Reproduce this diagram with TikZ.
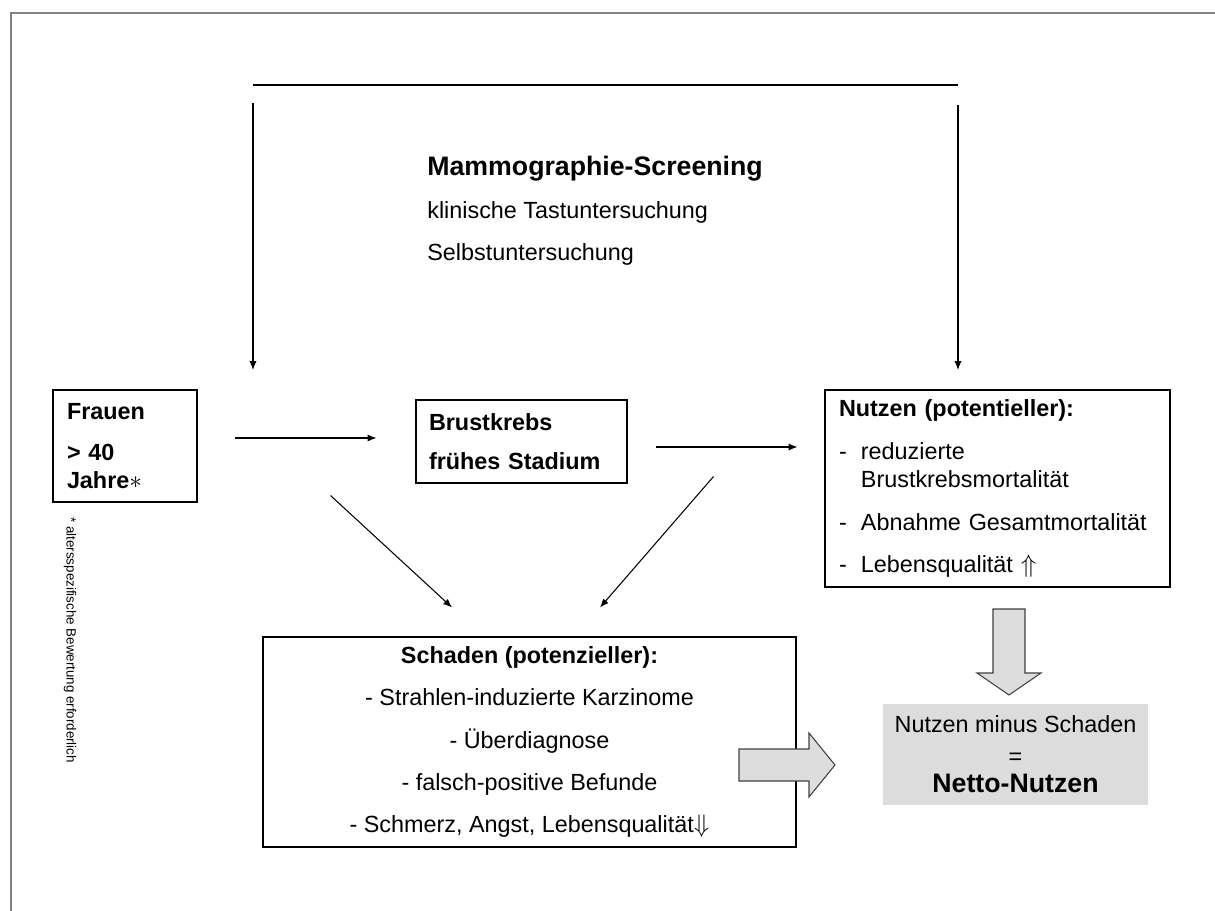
\documentclass[tikz,border=0pt]{standalone}
\usepackage{fontspec}
\setmainfont{Liberation Sans}
\usetikzlibrary{arrows.meta}

\definecolor{framegray}{HTML}{808080}
\definecolor{blockfill}{HTML}{DDDDDD}
\definecolor{blockline}{HTML}{404040}
\definecolor{netfill}{HTML}{DCDCDC}

\newcommand{\bodysize}{\fontsize{13.3}{16}\selectfont}
\newcommand{\titlesize}{\fontsize{15.2}{18}\selectfont}

\tikzset{
  box/.style={draw, line width=0.6pt, inner ysep=0pt},
  txt/.style={inner sep=0pt},
  flow/.style={-{Latex[length=5pt,width=4pt]}, line width=0.6pt},
  blockarrow/.style={draw=blockline, fill=blockfill, line width=0.6pt, line join=miter},
}

\begin{document}
\begin{tikzpicture}[every node/.style={font=\bodysize}]
  \useasboundingbox (0,0) rectangle (24.3,-18.22);

  \draw[framegray, line width=1.3pt] (0.22,-18.22) -- (0.22,-0.26) -- (24.3,-0.26);

  % screening
  \coordinate (topL) at (5.06,-1.70);
  \coordinate (topR) at (19.16,-1.70);
  \coordinate (entryL) at (5.06,-7.40);
  \coordinate (entryR) at (19.16,-7.40);
  \draw[line width=1.2pt] (topL) -- (topR);

  \node[txt, anchor=base west, font=\titlesize\bfseries] (screen) at (8.54,-3.52) {Mammographie-Screening};
  \node[txt, anchor=base west] (klin) at (8.54,-4.38) {klinische Tastuntersuchung};
  \node[txt, anchor=base west] (selbst) at (8.54,-5.22) {Selbstuntersuchung};

  % boxes
  \node[box, minimum width=2.88cm, minimum height=2.24cm, text width=2.32cm, inner xsep=0.28cm,
        align=left, font=\bodysize\bfseries] (frauen) at (2.50,-8.92)
        {Frauen\\[7pt] > 40\\ Jahre$\ast$};
  \node[box, minimum width=4.22cm, minimum height=1.66cm, text width=3.70cm, inner xsep=0.26cm,
        align=left, font=\bodysize\bfseries] (brust) at (10.43,-8.83)
        {Brustkrebs\\[6.5pt] frühes Stadium};
  \node[box, minimum width=6.90cm, minimum height=3.94cm, text width=6.34cm, inner xsep=0.28cm,
        align=left] (nutzen) at (19.95,-9.77)
        {{\bfseries Nutzen (potentieller):}\\[8.4pt]
         \makebox[12.5pt][l]{-}reduzierte\\
         \hspace*{12.5pt}Brustkrebsmortalität\\[8pt]
         \makebox[12.5pt][l]{-}Abnahme Gesamtmortalität\\[8pt]
         \makebox[12.5pt][l]{-}Lebensqualität $\Uparrow$};
  \node[box, minimum width=10.66cm, minimum height=4.20cm, align=center] (schaden) at (10.59,-14.84)
        {{\bfseries Schaden (potenzieller):}\\[8pt]
         - Strahlen-induzierte Karzinome\\[8pt]
         - Überdiagnose\\[8pt]
         - falsch-positive Befunde\\[8pt]
         - Schmerz, Angst, Lebensqualität$\Downarrow$};
  \node[fill=netfill, minimum width=5.30cm, minimum height=2.02cm, align=center] (netto) at (20.31,-15.09)
        {Nutzen minus Schaden\\[2pt] =\\[0pt] {\titlesize\bfseries Netto-Nutzen}};

  \node[txt, rotate=-90, anchor=west, font=\fontsize{7.6}{9}\selectfont] (note) at (1.40,-10.34)
        {* altersspezifische Bewertung erforderlich};

  % arrows
  \draw[flow] ([yshift=-0.36cm]topL) -- (entryL);
  \draw[flow] ([yshift=-0.40cm]topR) -- (entryR);
  \draw[flow] ([shift={(0.74,0.16)}]frauen.east) coordinate (fb) -- ([xshift=-0.78cm]brust.west |- fb);
  \draw[flow] ([shift={(0.56,-0.11)}]brust.east) coordinate (bn) -- ([xshift=-0.54cm]nutzen.west |- bn);
  \draw[flow] ([shift={(2.66,0.14)}]frauen.south east) -- ([shift={(-1.55,0.58)}]schaden.north);
  \draw[flow] ([shift={(1.72,0.14)}]brust.south east) -- ([shift={(1.41,0.58)}]schaden.north);

  \draw[blockarrow] (14.78,-14.98) -- (16.18,-14.98) -- (16.18,-14.66) -- (16.70,-15.30)
        -- (16.18,-15.94) -- (16.18,-15.62) -- (14.78,-15.62) -- cycle;
  \draw[blockarrow] (19.86,-12.18) -- (20.50,-12.18) -- (20.50,-13.46) -- (20.82,-13.46)
        -- (20.18,-13.90) -- (19.54,-13.46) -- (19.86,-13.46) -- cycle;
\end{tikzpicture}
\end{document}
